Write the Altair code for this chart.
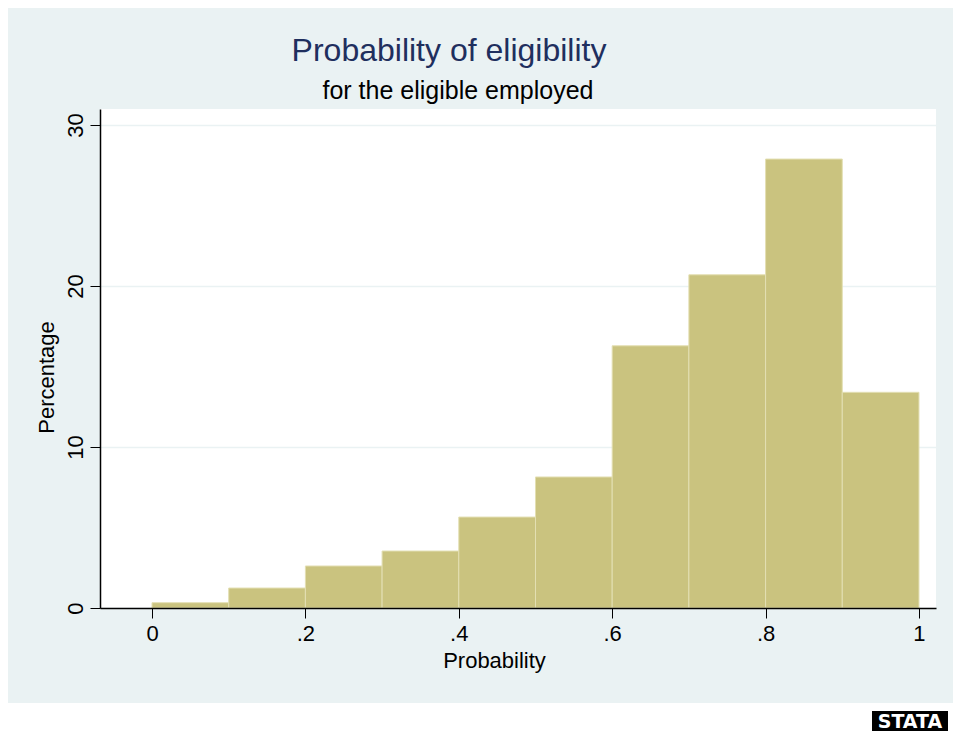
import altair as alt
import pandas as pd

# ---- data ----
bin_start = [0.0, 0.1, 0.2, 0.3, 0.4, 0.5, 0.6, 0.7, 0.8, 0.9]
bin_end = [0.1, 0.2, 0.3, 0.4, 0.5, 0.6, 0.7, 0.8, 0.9, 1.0]
percent = [0.33, 1.24, 2.61, 3.54, 5.65, 8.14, 16.29, 20.70, 27.89, 13.40]
x_ticks = [0, 0.2, 0.4, 0.6, 0.8, 1.0]
y_ticks = [0, 10, 20, 30]

title_text = "Probability of eligibility"
subtitle_text = "for the eligible employed"
x_title = "Probability"
y_title = "Percentage"

LIGHT = "#EAF2F3"
BAR = "#CAC37F"
BAR_EDGE = "#E3DFB3"
NAVY = "#1F2F5E"

W, H = 836, 499

df = pd.DataFrame({"start": bin_start, "end": bin_end, "pct": percent,
                   "base": [0] * len(percent)})
one = pd.DataFrame({"a": [0]})

xs = alt.Scale(domain=[-0.0678, 1.0222], nice=False, zero=False)
ys = alt.Scale(domain=[0, 31.0], nice=False)

bars = alt.Chart(df).mark_rect(fill=BAR, stroke=BAR_EDGE, strokeWidth=1).encode(
    x=alt.X("start:Q", scale=xs, axis=alt.Axis(
        values=x_ticks, title=x_title,
        labelExpr="datum.value == 0 ? '0' : datum.value == 1 ? '1' : '.' + round(datum.value*10)",
        labelFontSize=22, labelColor="black", labelPadding=5, labelFlush=False,
        labelOverlap=False,
        tickSize=10, tickColor="black", tickWidth=1,
        domainColor="black", domainWidth=1.5,
        grid=False, zindex=1,
        titleFontSize=22, titleFontWeight="normal", titleColor="black",
        titleX=394, titleY=59, titleBaseline="alphabetic", titleAlign="center",
    )),
    x2="end:Q",
    y=alt.Y("pct:Q", scale=ys, axis=alt.Axis(
        values=y_ticks, title=y_title,
        labelAngle=270, labelAlign="center", labelBaseline="alphabetic",
        labelFontSize=22, labelColor="black", labelPadding=8, labelFlush=False,
        labelOverlap=False,
        tickSize=10, tickColor="black", tickWidth=1,
        domainColor="black", domainWidth=1.5,
        grid=True, gridColor=LIGHT, gridWidth=1.5, zindex=0,
        titleFontSize=22, titleFontWeight="normal", titleColor="black",
        titleAngle=270, titleX=-47, titleY=268, titleBaseline="alphabetic",
        titleAlign="center",
    )),
    y2="base:Q",
)

title = alt.Chart(one).mark_text(fontSize=32, color=NAVY, baseline="alphabetic",
                                 align="center").encode(
    x=alt.value(349), y=alt.value(-48), text=alt.value(title_text))
subtitle = alt.Chart(one).mark_text(fontSize=25, color="black", baseline="alphabetic",
                                    align="center").encode(
    x=alt.value(358), y=alt.value(-10), text=alt.value(subtitle_text))

strip = alt.Chart(one).mark_rect(color="white").encode(
    x=alt.value(-100), x2=alt.value(900), y=alt.value(594), y2=alt.value(640))
logo_box = alt.Chart(one).mark_rect(color="black").encode(
    x=alt.value(772), x2=alt.value(848), y=alt.value(602), y2=alt.value(622))
logo_text = alt.Chart(one).mark_text(color="white", fontSize=19, fontWeight="bold",
                                     font="DejaVu Sans", baseline="middle",
                                     align="center").encode(
    x=alt.value(810), y=alt.value(613), text=alt.value("STATA"))

chart = alt.layer(bars, title, subtitle, strip, logo_box, logo_text).properties(
    width=W, height=H,
    autosize=alt.AutoSizeParams(type="none"),
    padding={"left": 92, "top": 101, "right": 17, "bottom": 125},
).configure(
    background=LIGHT, font="Liberation Sans",
).configure_view(fill="white", stroke=None)

chart.save("out.html", embed_options={"renderer": "svg", "actions": False})
